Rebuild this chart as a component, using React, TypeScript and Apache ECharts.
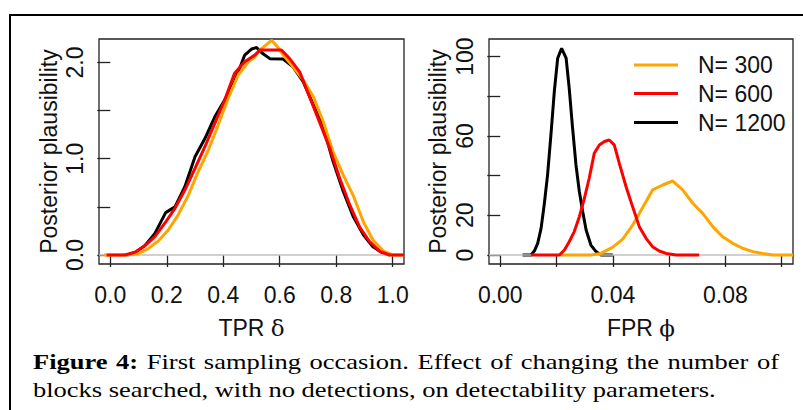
import React, { useEffect, useRef } from "react";
import * as echarts from "echarts";

// ---------- axis ticks / labels ----------
const tprTicks = [0, 0.2, 0.4, 0.6, 0.8, 1.0];
const tprLabels = [0, 0.2, 0.4, 0.6, 0.8, 1.0];
const densTicksL = [0, 0.5, 1.0, 1.5, 2.0];
const densLabelsL = [0, 1.0, 2.0];
const fprTicks = [0, 0.02, 0.04, 0.06, 0.08, 0.1];
const fprLabels = [0, 0.04, 0.08];
const densTicksR = [0, 20, 40, 60, 80, 100];
const densLabelsR = [0, 20, 60, 100];

const seriesNames = ["N= 300", "N= 600", "N= 1200"];
const seriesColors = ["#FFA500", "#FF0000", "#000000"];

// ---------- left panel: TPR delta ----------
const tprX300 = [-0.022, 0.06, 0.099, 0.134, 0.17, 0.205, 0.24, 0.276, 0.311, 0.347, 0.382, 0.417, 0.453, 0.489, 0.512, 0.53, 0.555, 0.571, 0.59, 0.612, 0.647, 0.683, 0.719, 0.754, 0.789, 0.825, 0.86, 0.896, 0.93, 0.967, 1.0, 1.04];
const tprY300 = [0, 0, 0.014, 0.066, 0.145, 0.26, 0.415, 0.62, 0.865, 1.09, 1.35, 1.627, 1.87, 2.007, 2.06, 2.13, 2.19, 2.23, 2.17, 2.08, 1.955, 1.82, 1.645, 1.385, 1.07, 0.83, 0.62, 0.345, 0.156, 0.04, 0, 0];

const tprX600 = [-0.013, 0.052, 0.087, 0.123, 0.158, 0.193, 0.229, 0.264, 0.3, 0.335, 0.37, 0.405, 0.44, 0.476, 0.512, 0.53, 0.606, 0.635, 0.671, 0.706, 0.741, 0.777, 0.812, 0.848, 0.883, 0.918, 0.953, 0.989, 1.04];
const tprY600 = [0, 0, 0.028, 0.097, 0.19, 0.33, 0.485, 0.675, 0.9, 1.125, 1.367, 1.61, 1.887, 2.007, 2.077, 2.13, 2.13, 2.04, 1.9, 1.64, 1.38, 1.11, 0.8, 0.52, 0.29, 0.14, 0.04, 0, 0];

const tprX1200 = [0.06, 0.09, 0.123, 0.158, 0.196, 0.229, 0.264, 0.3, 0.335, 0.37, 0.405, 0.44, 0.476, 0.5, 0.518, 0.541, 0.565, 0.612, 0.647, 0.683, 0.719, 0.754, 0.789, 0.825, 0.86, 0.896, 0.93, 0.967, 0.99];
const tprY1200 = [0, 0.03, 0.1, 0.225, 0.44, 0.5, 0.71, 1.02, 1.21, 1.436, 1.61, 1.8, 2.077, 2.14, 2.155, 2.09, 2.04, 2.035, 1.955, 1.8, 1.56, 1.33, 0.97, 0.66, 0.4, 0.21, 0.086, 0.017, 0];

// ---------- right panel: FPR phi ----------
const fprX300 = [0.021, 0.0322, 0.0358, 0.04, 0.0435, 0.047, 0.0506, 0.0541, 0.0577, 0.0613, 0.0648, 0.0684, 0.0719, 0.0755, 0.079, 0.0826, 0.0861, 0.0897, 0.0932, 0.0968, 0.104];
const fprY300 = [0, 0, 0.8, 4.0, 8.0, 15.0, 24.0, 32.8, 35.3, 37.3, 32.8, 26.1, 21.0, 14.3, 9.2, 5.9, 3.4, 1.7, 0.8, 0, 0];

const fprX600 = [0.0109, 0.021, 0.0228, 0.0245, 0.0263, 0.0281, 0.0299, 0.0316, 0.0334, 0.0352, 0.037, 0.0387, 0.0405, 0.0423, 0.0447, 0.047, 0.0494, 0.0518, 0.0541, 0.0565, 0.0589, 0.0625, 0.0707];
const fprY600 = [0, 0, 2.5, 6.7, 11.8, 19.3, 28.6, 38.7, 51.3, 55.5, 57.2, 58, 55.5, 46.2, 34.4, 24.4, 14.3, 8.4, 4.2, 2.0, 0.8, 0, 0];

const fprX1200 = [0.0079, 0.0109, 0.0121, 0.0133, 0.0145, 0.0156, 0.0168, 0.018, 0.0192, 0.0204, 0.0218, 0.0234, 0.0245, 0.0257, 0.0269, 0.0281, 0.0293, 0.0305, 0.0322, 0.034, 0.0358, 0.04];
const fprY1200 = [0, 0, 2.0, 5.9, 13.4, 25.2, 40.3, 60.5, 82.4, 99.2, 104.2, 99.2, 84, 63.9, 45.4, 31.9, 21.8, 12.6, 5.0, 1.7, 0, 0];

// ---------- caption ----------
const captionBoldWords = ["Figure", "4:"];
const captionLine1 = "First sampling occasion. Effect of changing the number of";
const captionLine2 = "blocks searched, with no detections, on detectability parameters.";

const zip = (xs: number[], ys: number[]) => xs.map((x, i) => [x, ys[i]]);

const SANS = "Liberation Sans";
const SERIF = "Liberation Serif";

function axisX(gridIndex: number, min: number, max: number, ticks: number[], labels: number[], digits: number, name: string) {
  return {
    type: "value",
    gridIndex,
    min,
    max,
    axisLine: { show: false },
    splitLine: { show: false },
    axisTick: { show: true, customValues: ticks, length: 12, lineStyle: { color: "#222", width: 1.3 } },
    axisLabel: {
      customValues: labels,
      formatter: (v: number) => v.toFixed(digits),
      fontSize: 23,
      fontFamily: SANS,
      color: "#111",
      margin: 19,
    },
    name,
    nameLocation: "middle",
    nameGap: 52,
    nameTextStyle: {
      fontSize: 23,
      fontFamily: SANS,
      color: "#111",
      rich: {
        a: { fontSize: 23, fontFamily: SANS, color: "#111" },
        b: { fontSize: 23, fontFamily: "DejaVu Serif", color: "#111" },
      },
    },
  };
}

function axisY(gridIndex: number, min: number, max: number, ticks: number[], labels: number[], fmt: (v: number) => string, gap: number) {
  return {
    type: "value",
    gridIndex,
    min,
    max,
    axisLine: { show: false },
    splitLine: { show: false },
    axisTick: { show: true, customValues: ticks, length: 13, lineStyle: { color: "#222", width: 1.3 } },
    axisLabel: {
      customValues: labels,
      formatter: fmt,
      rotate: 90,
      fontSize: 23,
      fontFamily: SANS,
      color: "#111",
      margin: 13,
    },
    name: "Posterior plausibility",
    nameLocation: "middle",
    nameGap: gap,
    nameTextStyle: { fontSize: 23, fontFamily: SANS, color: "#111" },
  };
}

function lineSeries(name: string, data: number[][], color: string, xi: number, yi: number, width = 3) {
  return {
    type: "line",
    name,
    xAxisIndex: xi,
    yAxisIndex: yi,
    data,
    showSymbol: false,
    symbol: "none",
    smooth: false,
    clip: true,
    lineStyle: { color, width },
    itemStyle: { color },
    silent: true,
  };
}

export default function App() {
  const ref = useRef<HTMLDivElement>(null);

  useEffect(() => {
    if (!ref.current) return;
    const chart = echarts.init(ref.current, undefined, { renderer: "svg" });

    // caption layout (justified first line, natural second line)
    const ctx = document.createElement("canvas").getContext("2d")!;
    const capSize = 22;
    const fontN = `${capSize}px "${SERIF}"`;
    const fontB = `bold ${capSize}px "${SERIF}"`;
    ctx.font = fontN;
    const w2 = ctx.measureText(captionLine2).width;
    const capLeft = 33;
    const line2Width = 683;
    const sx = line2Width / w2;
    const words1: { t: string; b: boolean }[] = [
      ...captionBoldWords.map((t) => ({ t, b: true })),
      ...captionLine1.split(" ").map((t) => ({ t, b: false })),
    ];
    const widths1 = words1.map((w) => {
      ctx.font = w.b ? fontB : fontN;
      return ctx.measureText(w.t).width * sx;
    });
    const line1Width = 746;
    const gap = (line1Width - widths1.reduce((a, b) => a + b, 0)) / (words1.length - 1);
    const capEls: any[] = [];
    let cx = capLeft;
    words1.forEach((w, i) => {
      capEls.push({
        type: "text",
        x: cx,
        y: 361,
        scaleX: sx,
        style: { text: w.t, x: 0, y: 0, fill: "#000", fontSize: capSize, fontFamily: SERIF, fontWeight: w.b ? "bold" : "normal", verticalAlign: "middle", align: "left" },
      });
      cx += widths1[i] + gap;
    });
    capEls.push({
      type: "text",
      x: capLeft,
      y: 389,
      scaleX: sx,
      style: { text: captionLine2, x: 0, y: 0, fill: "#000", fontSize: capSize, fontFamily: SERIF, verticalAlign: "middle", align: "left" },
    });

    // legend (graphic)
    const legendEls: any[] = [];
    const legendYs = [65, 93.5, 122.5];
    seriesNames.forEach((n, i) => {
      legendEls.push({ type: "line", shape: { x1: 634, y1: legendYs[i], x2: 678, y2: legendYs[i] }, style: { stroke: seriesColors[i], lineWidth: 3 } });
      legendEls.push({ type: "text", x: 698, y: legendYs[i], style: { text: n, fill: "#111", fontSize: 23, fontFamily: SANS, verticalAlign: "middle", align: "left" } });
    });

    const option: any = {
      animation: false,
      backgroundColor: "#fff",
      grid: [
        { left: 99, top: 39, width: 305, height: 225, show: true, borderColor: "#222", borderWidth: 1.3, backgroundColor: "transparent" },
        { left: 489, top: 39, width: 304, height: 225, show: true, borderColor: "#222", borderWidth: 1.3, backgroundColor: "transparent" },
      ],
      xAxis: [
        axisX(0, -0.04, 1.04, tprTicks, tprLabels, 1, "{a|TPR }{b|δ}"),
        axisX(1, -0.004, 0.104, fprTicks, fprLabels, 2, "{a|FPR }{b|ϕ}"),
      ],
      yAxis: [
        axisY(0, -0.0935, 2.244, densTicksL, densLabelsL, (v) => v.toFixed(1), 39),
        axisY(1, -4.54, 108.9, densTicksR, densLabelsR, (v) => String(v), 40),
      ],
      series: [
        lineSeries(seriesNames[2], zip(tprX1200, tprY1200), seriesColors[2], 0, 0),
        lineSeries("zero-left", [[-0.04, 0], [1.04, 0]], "#c0c0c0", 0, 0, 1.3),
        lineSeries(seriesNames[0], zip(tprX300, tprY300), seriesColors[0], 0, 0),
        lineSeries(seriesNames[1], zip(tprX600, tprY600), seriesColors[1], 0, 0),
        lineSeries(seriesNames[2], zip(fprX1200, fprY1200), seriesColors[2], 1, 1),
        lineSeries("zero-right", [[-0.004, 0], [0.104, 0]], "#c0c0c0", 1, 1, 1.3),
        lineSeries(seriesNames[0], zip(fprX300, fprY300), seriesColors[0], 1, 1),
        lineSeries(seriesNames[1], zip(fprX600, fprY600), seriesColors[1], 1, 1),
      ],
      graphic: [
        { type: "line", shape: { x1: 9, y1: 15, x2: 803, y2: 15 }, style: { stroke: "#000", lineWidth: 2 } },
        { type: "line", shape: { x1: 10, y1: 14, x2: 10, y2: 410 }, style: { stroke: "#000", lineWidth: 2 } },
        ...legendEls,
        ...capEls,
      ],
    };
    chart.setOption(option);
    return () => chart.dispose();
  }, []);

  return <div ref={ref} style={{ position: "absolute", left: 0, top: 0, width: 803, height: 410 }} />;
}
